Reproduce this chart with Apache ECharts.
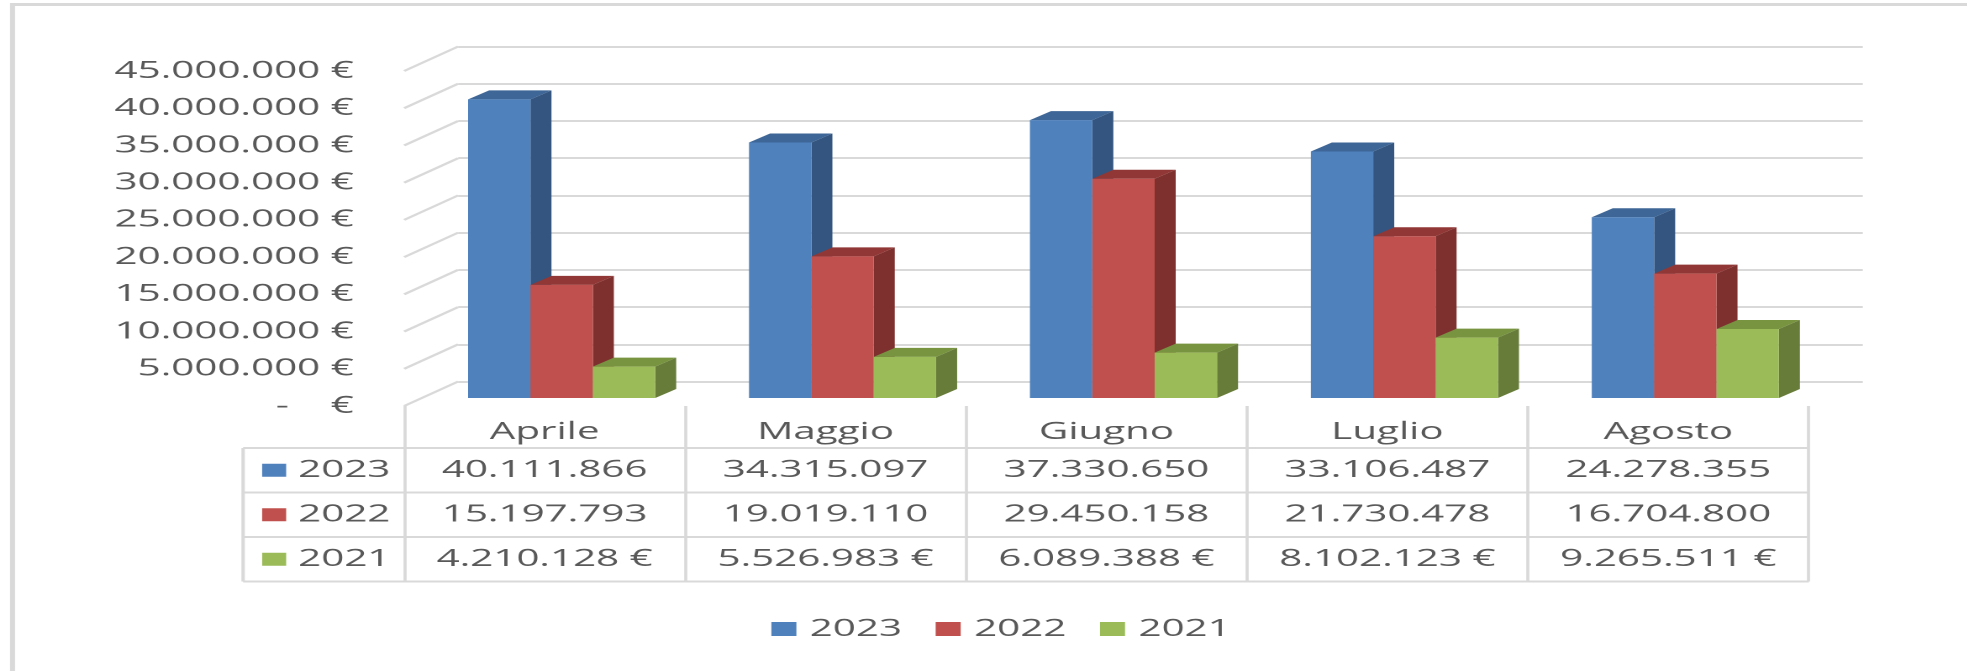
<!DOCTYPE html>
<html>
<head>
<meta charset="utf-8">
<script src="https://cdn.jsdelivr.net/npm/echarts@6/dist/echarts.min.js"></script>
<style>
html,body{margin:0;padding:0;background:#fff;overflow:hidden;width:1967px;height:671px}
#wrap{position:absolute;left:0;top:0;width:1967px;height:671px;overflow:hidden;background:#fff}
#chart{position:absolute;left:0;top:0;height:671px;transform-origin:0 0}
</style>
</head>
<body>
<div id="wrap"><div id="chart"></div></div>
<script>
// ---------------- data ----------------
const categories = ['Aprile', 'Maggio', 'Giugno', 'Luglio', 'Agosto'];
const seriesNames = ['2023', '2022', '2021'];
const values2023 = [40111866, 34315097, 37330650, 33106487, 24278355];
const values2022 = [15197793, 19019110, 29450158, 21730478, 16704800];
const values2021 = [4210128, 5526983, 6089388, 8102123, 9265511];
const cellSuffix = ['', '', ' €'];
const yTicks = [0, 5000000, 10000000, 15000000, 20000000, 25000000, 30000000, 35000000, 40000000, 45000000];

// ---------------- layout / style ----------------
const W = 1967, H = 671;
const S = 1.68;                 // horizontal stretch of the reference
const W0 = W / S;
const ux = x => x / S;          // full-width pixel -> unstretched pixel

const FONT = "'Open Sans', 'Noto Sans', sans-serif";
const TXT = '#595959';
const LINE = '#d9d9d9';
const COLORS = [
  { front: '#4F81BD', side: '#34557f', top: '#3e6696' },
  { front: '#C0504D', side: '#7e302e', top: '#913836' },
  { front: '#9BBB59', side: '#677c39', top: '#789441' }
];
const FRONT = { left: 404, right: 1808, top: 71, bottom: 406 };
const DEPTH = [ux(54), -24.5];
const BAR_OFF = [ux(17), -8];
const BAR_DEPTH = [ux(21), -9];
const CLUSTER = 0.666;
const TABLE = { left: 243, headBottom: 448, rowH: 44.5 };
const rowY = i => TABLE.headBottom + TABLE.rowH * (i + 0.5);

const fmt = n => String(Math.round(n)).replace(/\B(?=(\d{3})+(?!\d))/g, '.');

const seriesValues = [values2023, values2022, values2021];

const dom = document.getElementById('chart');
dom.style.width = W0 + 'px';
dom.style.transform = 'scaleX(' + S + ')';
const chart = echarts.init(dom, null, { width: W0, height: H, devicePixelRatio: 2 });

function barRender(si) {
  return function (params, api) {
    const cat = api.value(0), v = api.value(1);
    const base = api.coord([cat, 0]);
    const top = api.coord([cat, v]);
    const band = api.size([1, 0])[0];
    const bw = band * CLUSTER / 3;
    const x0 = base[0] + BAR_OFF[0] - 1.5 * bw + si * bw;
    const yb = base[1] + BAR_OFF[1];
    const yt = top[1] + BAR_OFF[1];
    const dx = BAR_DEPTH[0], dy = BAR_DEPTH[1];
    const c = COLORS[si];
    const children = [
      { type: 'polygon', shape: { points: [[x0 + bw, yt], [x0 + bw + dx, yt + dy], [x0 + bw + dx, yb + dy], [x0 + bw, yb]] }, style: { fill: c.side } },
      { type: 'polygon', shape: { points: [[x0, yt], [x0 + dx, yt + dy], [x0 + bw + dx, yt + dy], [x0 + bw, yt]] }, style: { fill: c.top } },
      { type: 'rect', shape: { x: x0, y: yt, width: bw, height: yb - yt }, style: { fill: c.front } },
      { type: 'text', style: { text: fmt(v) + cellSuffix[si], x: base[0], y: rowY(si), align: 'center', verticalAlign: 'middle', fontSize: 24, fontFamily: FONT, fill: TXT } }
    ];
    if (params.dataIndex === 0) {
      children.push({ type: 'rect', shape: { x: ux(262), y: rowY(si) - 6.5, width: ux(24), height: 13 }, style: { fill: c.front } });
      children.push({ type: 'text', style: { text: seriesNames[si], x: ux(298), y: rowY(si), align: 'left', verticalAlign: 'middle', fontSize: 24, fontFamily: FONT, fill: TXT } });
    }
    return { type: 'group', children: children };
  };
}

const barSeries = seriesNames.map((name, si) => ({
  name: name,
  type: 'custom',
  xAxisIndex: 0, yAxisIndex: 0,
  clip: false,
  itemStyle: { color: COLORS[si].front },
  encode: { x: 0, y: 1 },
  data: seriesValues[si].map((v, i) => [i, v]),
  renderItem: barRender(si),
  z: 5
}));

const sideWall = {
  name: 'sideWall',
  type: 'custom',
  xAxisIndex: 0, yAxisIndex: 0,
  silent: true, clip: false,
  data: yTicks.map(v => [0, v]),
  encode: { y: 1 },
  renderItem: function (params, api) {
    const p = api.coord([0, api.value(1)]);
    const x = params.coordSys.x;
    return { type: 'line', shape: { x1: x, y1: p[1], x2: x + DEPTH[0], y2: p[1] + DEPTH[1] }, style: { stroke: LINE, lineWidth: 2 } };
  },
  z: 1
};

const tL = ux(TABLE.left), tR = ux(FRONT.right);
const tableLines = [];
for (let r = 0; r <= seriesNames.length; r++) {
  const y = TABLE.headBottom + TABLE.rowH * r;
  tableLines.push({ type: 'line', shape: { x1: tL, y1: y, x2: tR, y2: y }, style: { stroke: LINE, lineWidth: 2 }, silent: true });
}
tableLines.push({ type: 'line', shape: { x1: tL, y1: TABLE.headBottom, x2: tL, y2: TABLE.headBottom + TABLE.rowH * seriesNames.length }, style: { stroke: LINE, lineWidth: 2 }, silent: true });

const option = {
  animation: false,
  backgroundColor: '#fff',
  textStyle: { fontFamily: FONT },
  grid: [
    { left: ux(FRONT.left), right: W0 - ux(FRONT.right), top: FRONT.top, bottom: H - FRONT.bottom },
    { left: ux(FRONT.left) + DEPTH[0], right: W0 - ux(FRONT.right) - DEPTH[0], top: FRONT.top + DEPTH[1], bottom: H - FRONT.bottom - DEPTH[1] }
  ],
  xAxis: [
    {
      gridIndex: 0, type: 'category', data: categories, boundaryGap: true,
      axisLine: { show: false },
      axisTick: { show: true, length: TABLE.headBottom + TABLE.rowH * 3 - FRONT.bottom, lineStyle: { color: LINE, width: 1.8 } },
      axisLabel: { fontSize: 24, fontFamily: FONT, color: TXT, margin: 14 },
      splitLine: { show: false }
    },
    { gridIndex: 1, type: 'value', min: 0, max: 1, show: false }
  ],
  yAxis: [
    {
      gridIndex: 0, type: 'value', min: yTicks[0], max: yTicks[yTicks.length - 1], interval: yTicks[1] - yTicks[0],
      axisLine: { show: false }, axisTick: { show: false }, splitLine: { show: false },
      axisLabel: { fontSize: 24, fontFamily: FONT, color: TXT, margin: 30, padding: [4, 0, 0, 0],
        formatter: v => v === 0 ? '-    €' : fmt(v) + ' €' }
    },
    {
      gridIndex: 1, type: 'value', min: yTicks[0], max: yTicks[yTicks.length - 1], interval: yTicks[1] - yTicks[0],
      axisLine: { show: false }, axisTick: { show: false }, axisLabel: { show: false },
      splitLine: { show: true, lineStyle: { color: LINE, width: 2 } }
    }
  ],
  legend: {
    data: seriesNames,
    left: ux(771), top: 617, padding: 0,
    icon: 'rect', itemWidth: ux(25), itemHeight: 14, itemGap: 20,
    textStyle: { fontSize: 24, fontFamily: FONT, color: TXT, padding: [0, 0, 0, 3] },
    selectedMode: false
  },
  graphic: [
    { type: 'rect', shape: { x: ux(12.5), y: 4.5, width: W0 + 20, height: H + 20 }, style: { fill: 'none', stroke: LINE, lineWidth: 3 }, silent: true, z: 0 }
  ].concat(tableLines),
  series: [sideWall].concat(barSeries)
};
chart.setOption(option);
</script>
</body>
</html>
